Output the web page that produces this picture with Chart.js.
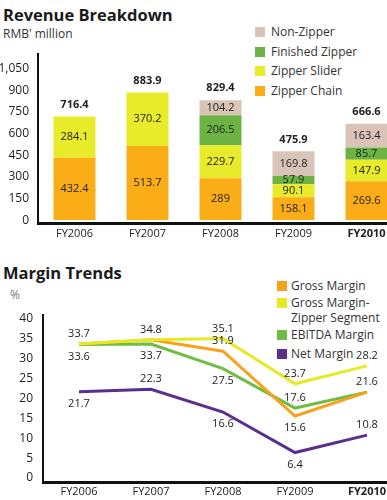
<!DOCTYPE html>
<html>
<head>
<meta charset="utf-8">
<script src="https://cdn.jsdelivr.net/npm/chart.js@4.4.1/dist/chart.umd.min.js"></script>
<style>
  html, body { margin: 0; padding: 0; background: #fff; width: 387px; height: 500px; overflow: hidden; }
  body { position: relative; font-family: "Open Sans", sans-serif; color: #222; }
  .title { position: absolute; left: 3px; font-weight: bold; font-size: 16.5px; line-height: 20px; color: #1a1a1a; }
  .unit { position: absolute; font-size: 12px; line-height: 14px; color: #333; }
  .legend { position: absolute; font-size: 12px; color: #333; }
  .legend .row { display: flex; align-items: flex-start; }
  .legend .sw { width: 10px; height: 10px; flex: none; }
  canvas { position: absolute; left: 0; }
</style>
</head>
<body>
<div class="title" style="top:5px">Revenue Breakdown</div>
<div class="unit" style="left:3px; top:27px">RMB' million</div>
<div class="legend" id="revLegend" style="left:255px; top:22px"></div>
<canvas id="rev" width="405" height="245" style="top:0"></canvas>

<div class="title" style="top:263px">Margin Trends</div>
<div class="unit" style="left:10px; top:288px; color:#777">%</div>
<div class="legend" id="marLegend" style="left:277px; top:278px"></div>
<canvas id="mar" width="405" height="255" style="top:245px"></canvas>

<script>
// ---- data ----
const years = ['FY2006', 'FY2007', 'FY2008', 'FY2009', 'FY2010'];

const zipperChain = [432.4, 513.7, 289, 158.1, 269.6];
const zipperSlider = [284.1, 370.2, 229.7, 90.1, 147.9];
const finishedZipper = [null, null, 206.5, 57.9, 85.7];
const nonZipper = [null, null, 104.2, 169.8, 163.4];
const revenueTotals = [716.4, 883.9, 829.4, 475.9, 666.6];

const grossMarginZipper = [33.7, 34.8, 35.1, 23.7, 28.2];
const grossMargin = [33.7, 34.8, 31.9, 15.6, 21.6];
const ebitdaMargin = [33.6, 33.7, 27.5, 17.6, 21.6];
const netMargin = [21.7, 22.3, 16.6, 6.4, 10.8];

const revenueTicks = [0, 150, 300, 450, 600, 750, 900, 1050];
const marginTicks = [0, 5, 10, 15, 20, 25, 30, 35, 40];

// where each value label sits: -1 above the point, 1 below, 0 not drawn
const marginLabelSide = {
  zipper: [-1, -1, -1, -1, -1],
  gross: [0, 0, -1, 1, -1],
  ebitda: [1, 1, 1, -1, 0],
  net: [1, -1, 1, 1, -1]
};

const FONT = '"Open Sans", sans-serif';
Chart.defaults.font.family = FONT;
Chart.defaults.color = '#222';

function buildLegend(id, items) {
  const el = document.getElementById(id);
  items.forEach(it => {
    const row = document.createElement('div');
    row.className = 'row';
    row.style.lineHeight = it.lh + 'px';
    row.style.marginBottom = (it.gap || 0) + 'px';
    const sw = document.createElement('span');
    sw.className = 'sw';
    sw.style.background = it.color;
    sw.style.marginTop = ((it.lh - 10) / 2) + 'px';
    sw.style.marginRight = it.space + 'px';
    const tx = document.createElement('span');
    tx.innerHTML = it.label;
    row.appendChild(sw);
    row.appendChild(tx);
    el.appendChild(row);
  });
}

const colors = {
  chain: '#fbad18',
  slider: '#e8eb2a',
  finished: '#6db344',
  nonZipper: '#dac4b7',
  gmZipper: '#e6ea22',
  gm: '#f8a11c',
  ebitda: '#6fbe44',
  net: '#5b2d90'
};

buildLegend('revLegend', [
  { label: 'Non-Zipper', color: colors.nonZipper, lh: 19.7, space: 6 },
  { label: 'Finished Zipper', color: colors.finished, lh: 19.7, space: 6 },
  { label: 'Zipper Slider', color: colors.slider, lh: 19.7, space: 6 },
  { label: 'Zipper Chain', color: colors.chain, lh: 19.7, space: 6 }
]);
buildLegend('marLegend', [
  { label: 'Gross Margin', color: colors.gm, lh: 15, space: 4, gap: 2 },
  { label: 'Gross Margin-<br>Zipper Segment', color: colors.gmZipper, lh: 15, space: 4, gap: 2 },
  { label: 'EBITDA Margin', color: colors.ebitda, lh: 15, space: 4, gap: 4 },
  { label: 'Net Margin', color: colors.net, lh: 15, space: 4 }
]);

// ---- revenue chart ----
const barLabels = {
  id: 'barLabels',
  afterDatasetsDraw(chart) {
    const ctx = chart.ctx;
    ctx.save();
    ctx.textAlign = 'center';
    ctx.textBaseline = 'middle';
    ctx.fillStyle = '#222';
    ctx.font = '11px ' + FONT;
    chart.data.datasets.forEach((ds, i) => {
      chart.getDatasetMeta(i).data.forEach((bar, j) => {
        const v = ds.data[j];
        if (v == null) return;
        ctx.fillText(String(v), bar.x, (bar.y + bar.base) / 2);
      });
    });
    ctx.font = 'bold 11px ' + FONT;
    const ys = chart.scales.y;
    revenueTotals.forEach((t, j) => {
      const x = chart.getDatasetMeta(0).data[j].x;
      ctx.fillText(t.toFixed(1), x, ys.getPixelForValue(t) - 12);
    });
    ctx.restore();
  }
};

new Chart(document.getElementById('rev'), {
  type: 'bar',
  data: {
    labels: years,
    datasets: [
      { label: 'Zipper Chain', data: zipperChain, backgroundColor: colors.chain },
      { label: 'Zipper Slider', data: zipperSlider, backgroundColor: colors.slider },
      { label: 'Finished Zipper', data: finishedZipper, backgroundColor: colors.finished },
      { label: 'Non-Zipper', data: nonZipper, backgroundColor: colors.nonZipper }
    ]
  },
  options: {
    responsive: false,
    animation: false,
    layout: { padding: { top: 54, right: 2, left: 0, bottom: 0 } },
    datasets: { bar: { categoryPercentage: 1, barPercentage: 0.575, borderWidth: 0 } },
    plugins: { legend: { display: false }, tooltip: { enabled: false } },
    scales: {
      x: {
        stacked: true,
        grid: { display: false, drawTicks: false, tickLength: 0 },
        border: { display: true, color: '#111', width: 3 },
        ticks: {
          padding: 4,
          color: '#222',
          font: c => ({ size: 11, weight: c.index === 4 ? 'bold' : 'normal' })
        },
        afterFit: s => { s.height = 22; }
      },
      y: {
        stacked: true,
        min: -20,
        max: 1150,
        grid: { display: false, drawTicks: false, tickLength: 0 },
        border: { display: true, color: '#111', width: 2 },
        afterBuildTicks: s => { s.ticks = revenueTicks.map(v => ({ value: v })); },
        ticks: {
          padding: 9,
          color: '#222',
          font: { size: 12 },
          callback: v => v.toLocaleString('en-US')
        },
        afterFit: s => { s.width = 38; }
      }
    }
  },
  plugins: [barLabels]
});

// ---- margin chart ----
const lineLabels = {
  id: 'lineLabels',
  afterDatasetsDraw(chart) {
    const ctx = chart.ctx;
    ctx.save();
    ctx.textAlign = 'center';
    ctx.textBaseline = 'middle';
    ctx.fillStyle = '#222';
    ctx.font = '11px ' + FONT;
    chart.data.datasets.forEach((ds, i) => {
      const sides = marginLabelSide[ds.key];
      chart.getDatasetMeta(i).data.forEach((pt, j) => {
        const side = sides[j];
        if (!side) return;
        const dy = side < 0 ? -10 : 12;
        ctx.fillText(ds.data[j].toFixed(1), pt.x, pt.y + dy);
      });
    });
    ctx.restore();
  }
};

new Chart(document.getElementById('mar'), {
  type: 'line',
  data: {
    labels: years,
    datasets: [
      { key: 'zipper', label: 'Gross Margin-Zipper Segment', data: grossMarginZipper, borderColor: colors.gmZipper },
      { key: 'gross', label: 'Gross Margin', data: grossMargin, borderColor: colors.gm },
      { key: 'ebitda', label: 'EBITDA Margin', data: ebitdaMargin, borderColor: colors.ebitda },
      { key: 'net', label: 'Net Margin', data: netMargin, borderColor: colors.net }
    ]
  },
  options: {
    responsive: false,
    animation: false,
    layout: { padding: { top: 70, right: 2, left: 0, bottom: 0 } },
    datasets: { line: { borderWidth: 3, pointRadius: 0, tension: 0, fill: false } },
    plugins: { legend: { display: false }, tooltip: { enabled: false } },
    scales: {
      x: {
        offset: true,
        grid: { display: false, drawTicks: false, tickLength: 0 },
        border: { display: true, color: '#111', width: 3 },
        ticks: {
          padding: 2,
          color: '#222',
          font: c => ({ size: 11, weight: c.index === 4 ? 'bold' : 'normal' })
        },
        afterFit: s => { s.height = 15; }
      },
      y: {
        min: -1.2,
        max: 41,
        grid: { display: false, drawTicks: false, tickLength: 0 },
        border: { display: true, color: '#111', width: 2 },
        afterBuildTicks: s => { s.ticks = marginTicks.map(v => ({ value: v })); },
        ticks: {
          padding: 10,
          color: '#222',
          font: { size: 12 }
        },
        afterFit: s => { s.width = 43; }
      }
    }
  },
  plugins: [lineLabels]
});
</script>
</body>
</html>
